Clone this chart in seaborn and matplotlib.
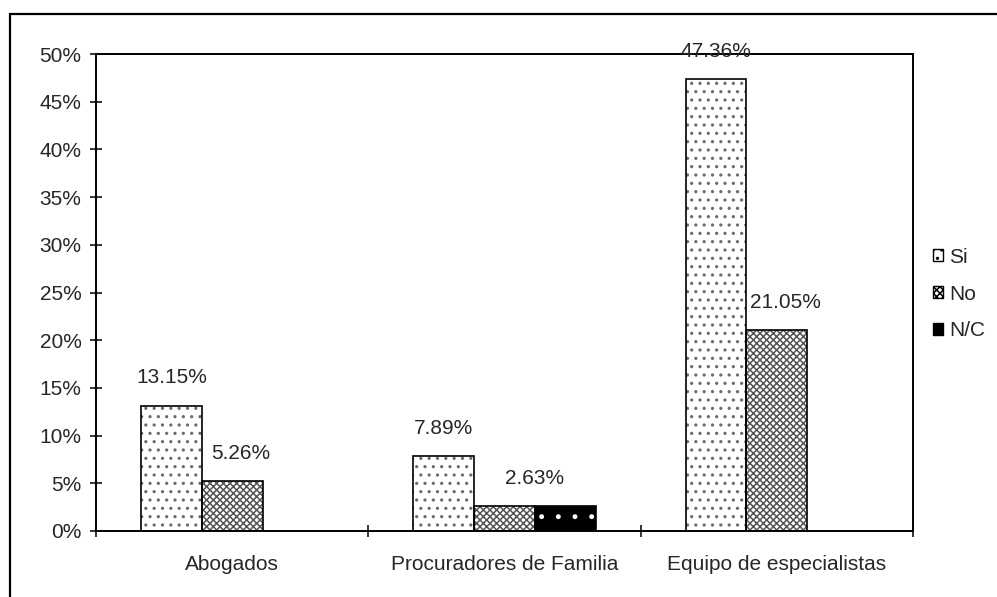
import matplotlib
matplotlib.use("Agg")
import matplotlib.pyplot as plt
import seaborn as sns
import pandas as pd
from matplotlib.patches import Rectangle
from matplotlib.ticker import FixedLocator, PercentFormatter

# datos (porcentajes)
categorias = ["Abogados", "Procuradores de Familia", "Equipo de especialistas"]
respuestas = ["Si", "No", "N/C"]
si = [13.15, 7.89, 47.36]
no = [5.26, 2.63, 21.05]
nc = [0.0, 2.63, 0.0]
y_ticks = [0, 5, 10, 15, 20, 25, 30, 35, 40, 45, 50]

df = pd.DataFrame({
    "Categoria": categorias * 3,
    "Respuesta": ["Si"] * 3 + ["No"] * 3 + ["N/C"] * 3,
    "Valor": si + no + nc,
})

sns.set_theme(style="white")
plt.rcParams["font.family"] = ["Liberation Sans", "DejaVu Sans"]
plt.rcParams["hatch.linewidth"] = 1.1
FS = 15

W, H = 997, 597
fig = plt.figure(figsize=(W / 100, H / 100), dpi=100)
ax = fig.add_axes([96 / W, (H - 531) / H, (913 - 96) / W, (531 - 54) / H])

# relleno con tramas
rellenos = ["white", "white", "black"]
sns.barplot(data=df, x="Categoria", y="Valor", hue="Respuesta",
            order=categorias, hue_order=respuestas,
            palette=rellenos, saturation=1,
            width=0.67, errorbar=None, legend=False, ax=ax)

estilos = [("..", "#6a6a6a"), ("xxxxx", "#555555"), (".", "white")]
for cont, (hatch, color) in zip(ax.containers, estilos):
    for p in cont.patches:
        p.set_hatch(hatch)
        p.set_edgecolor(color)
        p.set_linewidth(0)

# contornos negros
sns.barplot(data=df, x="Categoria", y="Valor", hue="Respuesta",
            order=categorias, hue_order=respuestas, fill=False,
            palette=["black", "black", "black"], saturation=1,
            width=0.67, errorbar=None, legend=False, linewidth=1.2, ax=ax)
for p in ax.containers[3].patches + ax.containers[4].patches + ax.containers[5].patches:
    p.set_edgecolor("black")
    p.set_facecolor("none")

ax.set_xlim(-0.5, 2.5)
ax.set_ylim(0, 50)
ax.yaxis.set_major_locator(FixedLocator(y_ticks))
ax.yaxis.set_major_formatter(PercentFormatter(decimals=0))

# ticks en los limites de categoria, etiquetas centradas
ax.set_xticks([-0.5, 0.5, 1.5, 2.5])
ax.set_xticklabels([])
ax.set_xticks(range(len(categorias)), minor=True)
ax.set_xticklabels(categorias, minor=True)
ax.tick_params(axis="x", which="major", direction="inout", length=9, width=1.3, bottom=True)
ax.tick_params(axis="x", which="minor", length=0, pad=17, labelsize=FS)
ax.tick_params(axis="y", direction="inout", length=9, width=1.3, left=True, pad=6, labelsize=FS)

for s in ax.spines.values():
    s.set_linewidth(1.4)
    s.set_color("black")

ax.set_xlabel("")
ax.set_ylabel("")

# etiquetas de datos
def etiqueta(patch, texto, dx=0.0):
    x = patch.get_x() + patch.get_width() / 2 + dx
    ax.annotate(texto, (x, patch.get_height()), xytext=(0, 13),
                textcoords="offset points", ha="center", va="bottom",
                fontsize=FS, annotation_clip=False)

for i in range(len(categorias)):
    p_si = ax.containers[0].patches[i]
    p_no = ax.containers[1].patches[i]
    etiqueta(p_si, f"{si[i]:.2f}%")
    if nc[i] > 0:
        etiqueta(p_no, f"{no[i]:.2f}%", dx=p_no.get_width() / 2)
    else:
        etiqueta(p_no, f"{no[i]:.2f}%", dx=0.03)

handles = [Rectangle((0, 0), 1, 1, facecolor=f, hatch=h, edgecolor="black", lw=1.0)
           for f, (h, _) in zip(rellenos, estilos)]
ax.legend(handles, respuestas, loc="center left", bbox_to_anchor=(914 / W, 1 - 294 / H),
          bbox_transform=fig.transFigure, frameon=False, fontsize=FS,
          handlelength=0.5, handleheight=0.5, handletextpad=0.3, labelspacing=0.85)

# marco exterior del area del grafico
fig.add_artist(Rectangle((10 / W, -0.1), 1.2, 0.1 + (H - 14) / H, transform=fig.transFigure,
                         fill=False, lw=1.6, edgecolor="black"))

fig.savefig("out.png", dpi=100, facecolor="white")
